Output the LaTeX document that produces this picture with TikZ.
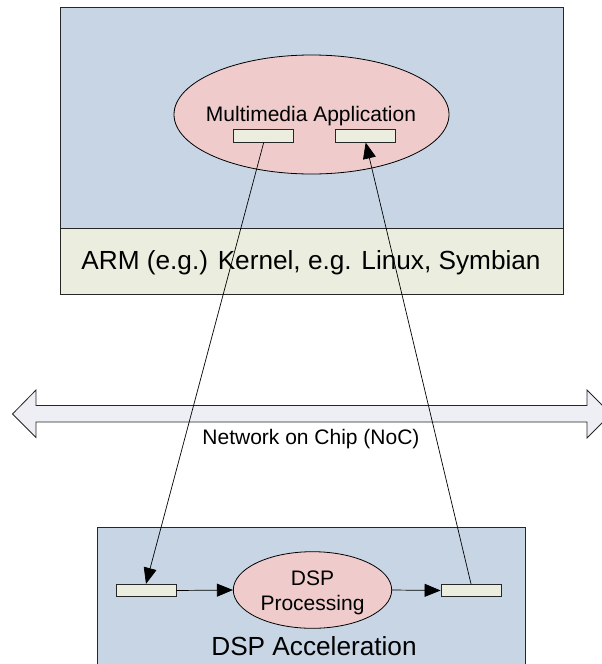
\documentclass[tikz,border=0pt]{standalone}
\usepackage{fontspec}
\setmainfont{Liberation Sans}
\usetikzlibrary{shapes.geometric,arrows.meta}
\definecolor{boxblue}{HTML}{C8D5E5}
\definecolor{kernelgreen}{HTML}{EBEEDF}
\definecolor{ellpink}{HTML}{EFCBCB}
\definecolor{arrowgray}{HTML}{EEEEF5}
\tikzset{
  panel/.style={draw=black!85, line width=0.9pt, fill=boxblue, rectangle, inner sep=0pt},
  kernelbar/.style={draw=black!85, line width=0.9pt, fill=kernelgreen, rectangle, inner sep=0pt},
  port/.style={draw=black!85, line width=0.8pt, fill=kernelgreen, rectangle, inner sep=0pt, minimum width=60pt, minimum height=12.5pt},
  proc/.style={draw=black, line width=0.8pt, fill=ellpink, ellipse, inner sep=0pt},
  bigtext/.style={anchor=base, inner sep=0pt, font=\fontsize{26.2}{30}\selectfont},
  smalltext/.style={anchor=base, inner sep=0pt, font=\fontsize{21}{25}\selectfont},
  flow/.style={draw=black, line width=0.7pt, -{Triangle[length=16pt,width=13pt]}}
}
\begin{document}
\begin{tikzpicture}[x=1pt,y=-1pt]
\useasboundingbox (0,0) rectangle (602,664);
\clip (0,0) rectangle (602,664);
\fill[white] (0,0) rectangle (602,664);

% ARM subsystem
\node[panel, minimum width=503pt, minimum height=220.7pt] (arm) at (311.5,117.6) {};
\node[kernelbar, minimum width=503pt, minimum height=66pt] (kernel) at (311.5,261) {};
\node[bigtext] (kerneltxt) at (311,269.3) {ARM (e.g.) Kernel, e.g. Linux, Symbian};
\node[proc, minimum width=275pt, minimum height=119pt] (app) at (311.5,114.5) {};
\node[smalltext] (apptxt) at (311,121.7) {Multimedia Application};
\node[port] (tl) at (263.7,135.9) {};
\node[port] (tr) at (365.7,135.9) {};

% Network on chip
\draw[draw=black!85, line width=0.8pt, fill=arrowgray]
  (12.5,414) -- (36,390) -- (36,405.5) -- (587,405.5) -- (587,390) -- (611,414)
  -- (587,438) -- (587,422) -- (36,422) -- (36,437.5) -- cycle;
\node[smalltext] (noc) at (311,444.3) {Network on Chip (NoC)};

% DSP subsystem
\node[panel, minimum width=428.4pt, minimum height=150pt] (dspbox) at (311.5,602.3) {};
\node[bigtext] (dsptxt) at (314,655) {DSP Acceleration};
\node[proc, minimum width=158.4pt, minimum height=76.6pt] (dsp) at (312.5,590) {};
\node[smalltext] (dsp1) at (312.5,585.3) {DSP};
\node[smalltext] (dsp2) at (312.5,610.7) {Processing};
\node[port] (bl) at (146,590.5) {};
\node[port] (br) at (471,590.5) {};

% connectors
\draw[flow] (bl.east) -- (dsp.west);
\draw[flow] (dsp.east) -- (br.west);
\draw[flow] (tl.south) -- (bl.north);
\draw[flow] (br.north) -- (tr.south);
\end{tikzpicture}
\end{document}
